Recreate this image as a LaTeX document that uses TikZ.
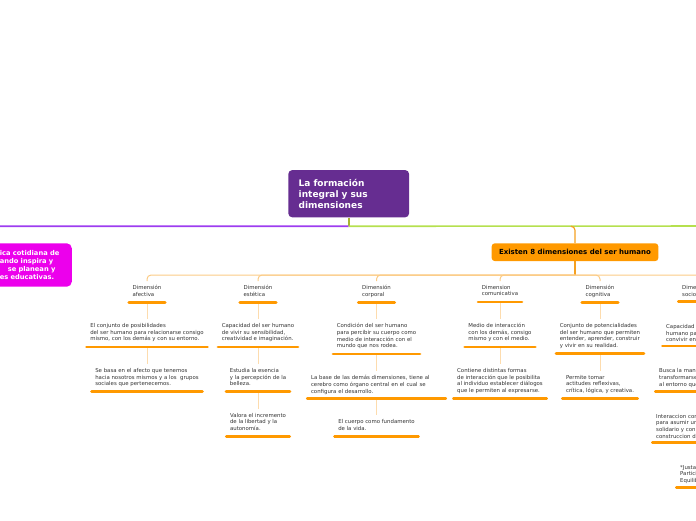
\documentclass[tikz,border=0pt]{standalone}
\usepackage{fontspec}
\setmainfont{DejaVu Sans}
\usetikzlibrary{positioning}
\definecolor{mapPurple}{HTML}{662D91}
\definecolor{mapPink}{HTML}{EC00EC}
\definecolor{mapViolet}{HTML}{9D3CF0}
\definecolor{mapLime}{HTML}{B5E04E}
\definecolor{mapOlive}{HTML}{A8B530}
\definecolor{mapOrange}{HTML}{FF9900}
\definecolor{mapAmber}{HTML}{F5A020}
\definecolor{mapPeach}{HTML}{FBCB85}
\definecolor{mapLink}{HTML}{FDDCAE}
\definecolor{mapInk}{HTML}{333333}

\begin{document}
\begin{tikzpicture}[x=1pt, y=-1pt, font=\fontsize{5.4}{6.6}\selectfont,
    central/.style={fill=mapPurple, rounded corners=4pt, text=white, font=\fontsize{9}{11}\selectfont\bfseries, align=left, text width=100pt, inner xsep=10.4pt, minimum height=47.3pt},
    side/.style={fill=mapPink, rounded corners=5pt, text=white, font=\fontsize{6.7}{8.3}\selectfont\bfseries, align=left, text width=66pt, inner xsep=6pt, minimum height=43.4pt},
    group/.style={fill=mapOrange, rounded corners=3pt, text=black, font=\fontsize{7}{8.5}\selectfont\bfseries, minimum width=166.6pt, minimum height=17.7pt, inner sep=0pt},
    topic/.style={text=mapInk, align=left, inner xsep=5pt, inner ysep=4pt, execute at begin node=\strut},
    cut/.style={topic, text width=#1},
    uline/.style={draw=mapOrange, line width=2.8pt, line cap=round},
    link/.style={draw=mapLink, line width=0.9pt},
    branch/.style={draw=mapPeach, line width=1pt, rounded corners=4pt},
    stemline/.style={draw=mapOlive, line width=1.6pt},
    leftline/.style={draw=mapViolet, line width=1.6pt, rounded corners=5pt},
    rightline/.style={draw=mapLime, line width=1.6pt},
    forkline/.style={draw=mapAmber, line width=1.2pt, rounded corners=4pt},
    hubline/.style={draw=mapAmber, line width=1.2pt}]
  \useasboundingbox (0,0) rectangle (696,520);
  \clip (0,0) rectangle (696,520);

  % central topic and first level
  \node[central] (title) at (348.7,193.7) {La formación\\integral y sus\\dimensiones};
  \node[side, anchor=east] (pink) at (72,265) {ica cotidiana de\\ando inspira y\\\hspace*{8pt}se planean y\\es educativas.};
  \node[group] (exist) at (575,252.2) {Existen 8 dimensiones del ser humano};
  \coordinate[below=8.7pt of title.south] (stem);
  \coordinate (fork) at (exist.north |- stem);
  \coordinate[below=13.8pt of exist.south] (hub);
  \coordinate (eastend) at (740,226);

  % the dimensions
  \node[topic, anchor=north] (afe) at (147,281) {Dimensión\\afectiva};
  \node[topic, anchor=north] (est) at (258,281) {Dimensión\\estética};
  \node[topic, anchor=north] (cor) at (376.5,281) {Dimensión\\corporal};
  \node[topic, anchor=north] (com) at (500,281) {Dimension\\comunicativa};
  \node[topic, anchor=north] (cog) at (600,281) {Dimensión\\cognitiva};
  \node[cut=55pt, anchor=north west] (soc) at (677,281) {Dimensión\\sociopolítica};

  \node[topic, below=17.1pt of afe] (afe1) {El conjunto de posibilidades\\del ser humano para relacionarse consigo\\mismo, con los demás y con su entorno.};
  \node[topic, below=17.1pt of afe1] (afe2) {Se basa en el afecto que tenemos\\hacia nosotros mismos y a los\ \ grupos\\sociales que pertenecemos.};

  \node[topic, below=17.1pt of est] (est1) {Capacidad del ser humano\\de vivir su sensibilidad,\\creatividad e imaginación.};
  \node[topic, below=17.1pt of est1] (est2) {Estudia la esencia\\y la percepción de la\\belleza.};
  \node[topic, below=17.1pt of est2] (est3) {Valora el incremento\\de la libertad y la\\autonomía.};

  \node[topic, below=17.1pt of cor] (cor1) {Condición del ser humano\\para percibir su cuerpo como\\medio de interacción con el\\mundo que nos rodea.};
  \node[cut=131pt, below=17.1pt of cor1] (cor2) {La base de las demás dimensiones, tiene al\\cerebro como órgano central en el cual se\\configura el desarrollo.};
  \node[topic, below=17.1pt of cor2] (cor3) {El cuerpo como fundamento\\de la vida.};

  \node[topic, below=17.1pt of com] (com1) {Medio de interacción\\con los demás, consigo\\mismo y con el medio.};
  \node[topic, below=17.1pt of com1] (com2) {Contiene distintas formas\\de interacción que le posibilita\\al individuo establecer diálogos\\que le permiten al expresarse.};

  \node[topic, below=17.1pt of cog] (cog1) {Conjunto de potencialidades\\del ser humano que permiten\\entender, aprender, construir\\y vivir en su realidad.};
  \node[topic, below=17.1pt of cog1] (cog2) {Permite tomar\\actitudes reflexivas,\\crítica, lógica, y creativa.};

  \node[cut=90pt, below=18pt of soc.south west, anchor=north west, xshift=-16pt] (soc1) {Capacidad del ser\\humano para\\convivir en};
  \node[cut=90pt, below=18pt of soc1.south west, anchor=north west, xshift=-7pt] (soc2) {Busca la manera de\\transformarse y\\al entorno que};
  \node[cut=90pt, below=18pt of soc2.south west, anchor=north west, xshift=-3pt] (soc3) {Interaccion con\\para asumir un\\solidario y con\\construccion de};
  \node[cut=90pt, below=18pt of soc3.south west, anchor=north west, xshift=24pt] (soc4) {*Justa\\*Participación\\*Equilibrio};

  % connectors
  \draw[stemline] (title) -- (stem);
  \draw[leftline] (stem) -| (pink.north west);
  \draw[rightline] (stem) -- (eastend);
  \draw[forkline] ([xshift=-4pt]fork) -| (exist.north);
  \draw[hubline] (exist) -- (hub);
  \foreach \h in {afe,est,cor,com,cog,soc}
    \draw[branch] (hub) -| (\h.north);
  \foreach \a/\b in {afe/afe1,afe1/afe2,est/est1,est1/est2,est2/est3,cor/cor1,cor1/cor2,cor2/cor3,com/com1,com1/com2,cog/cog1,cog1/cog2,soc/soc1,soc1/soc2,soc2/soc3,soc3/soc4}
    \draw[link] (\a.south) -- (\b.north);
  \foreach \n in {afe,afe1,afe2,est,est1,est2,est3,cor,cor1,cor2,cor3,com,com1,com2,cog,cog1,cog2,soc,soc1,soc2,soc3,soc4}
    \draw[uline] ([xshift=1.4pt]\n.south west) -- ([xshift=-1.4pt]\n.south east);
\end{tikzpicture}
\end{document}
